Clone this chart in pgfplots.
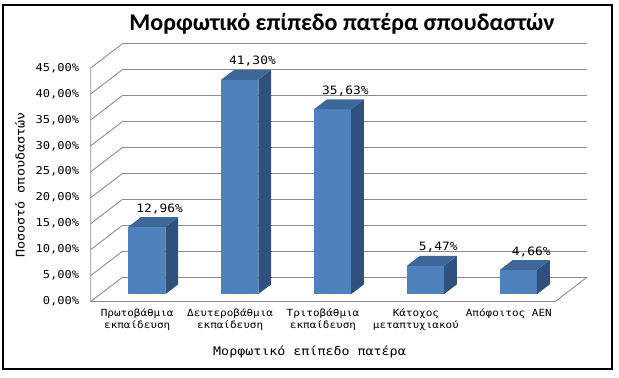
\documentclass[border=0pt]{standalone}
\usepackage{fontspec}
\usepackage{pgfplots}
\pgfplotsset{compat=1.18}
\newfontfamily\monof[FakeStretch=1.12]{DejaVu Sans Mono}
\newfontfamily\titlef{Carlito}
\definecolor{barfront}{HTML}{4F81BD}
\definecolor{barside}{HTML}{30507E}
\definecolor{bartop}{HTML}{3D6699}
\definecolor{gridc}{HTML}{8C8C8C}
% one 3D-looking bar: left x, right x, value
\newcommand\cbar[3]{%
 \addplot3[fill=barfront, draw=none] coordinates {(#1,0.3,0) (#2,0.3,0) (#2,0.3,#3) (#1,0.3,#3)};
 \addplot3[fill=barside, draw=none] coordinates {(#2,0.3,0) (#2,0.7,0) (#2,0.7,#3) (#2,0.3,#3)};
 \addplot3[fill=bartop, draw=none] coordinates {(#1,0.3,#3) (#2,0.3,#3) (#2,0.7,#3) (#1,0.7,#3)};
}
\begin{document}
\begin{tikzpicture}
\begin{axis}[
  x={(92.9bp,0bp)}, y={(32bp,24.5bp)}, z={(0bp,5.19bp)},
  xmin=-0.5, xmax=4.5, ymin=0, ymax=1, zmin=0, zmax=45,
  clip=false,
  axis line style={draw=none},
  tick style={draw=none},
  /pgf/number format/assume math mode=true,
  xtick={0,1,2,3,4},
  xticklabels={{Πρωτοβάθμια\\εκπαίδευση},{Δευτεροβάθμια\\εκπαίδευση},{Τριτοβάθμια\\εκπαίδευση},{Κάτοχος\\μεταπτυχιακού},{Απόφοιτος ΑΕΝ}},
  xticklabel style={align=center, font=\monof\fontsize{9.8bp}{11.5bp}\selectfont, anchor=north, yshift=-4bp},
  ytick=\empty,
  ztick={0,5,...,45},
  zticklabel={\pgfmathprintnumber[fixed,fixed zerofill,precision=2,use comma]{\tick}\%},
  zticklabel style={font=\monof\fontsize{10.8bp}{12bp}\selectfont, anchor=east, xshift=-8bp},
  zmajorgrids=true, xmajorgrids=false, ymajorgrids=false,
  major grid style={draw=gridc, line width=0.9bp},
]
\coordinate (O) at (axis cs:0,0,0);
% floor outline and front-left edge
\addplot3[draw=gridc, line width=0.9bp] coordinates {(-0.5,0,45) (-0.5,0,0) (4.5,0,0) (4.5,1,0)};
% bars
\cbar{-0.2}{0.2}{12.96}
\cbar{0.8}{1.2}{41.30}
\cbar{1.8}{2.2}{35.63}
\cbar{2.8}{3.2}{5.47}
\cbar{3.8}{4.2}{4.66}
% data labels
\addplot3[draw=none, point meta=z,
  nodes near coords={\pgfmathprintnumber[fixed,fixed zerofill,precision=2,use comma]{\pgfplotspointmeta}\%},
  nodes near coords style={anchor=base, yshift=5bp, font=\monof\fontsize{11.5bp}{12bp}\selectfont}]
  coordinates {(0,0.7,12.96) (1,0.7,41.30) (2,0.7,35.63) (3,0.7,5.47) (4,0.7,4.66)};
\end{axis}
\pgfresetboundingbox
\path (O) ++(-137.2bp,-76.5bp) rectangle ++(619bp,378bp);
\draw[line width=1.4bp] (O) ++(-134.2bp,-67.5bp) rectangle ++(609bp,364bp);
\path (O) ++(204.8bp,277.5bp) node[font=\titlef\bfseries\fontsize{24bp}{28bp}\selectfont] {Μορφωτικό επίπεδο πατέρα σπουδαστών};
\path (O) ++(172.3bp,-50.5bp) node[font=\monof\fontsize{11.9bp}{14bp}\selectfont] {Μορφωτικό επίπεδο πατέρα};
\path (O) ++(-117.2bp,116.5bp) node[font=\monof\fontsize{11.9bp}{14bp}\selectfont, rotate=90] {Ποσοστό σπουδαστών};
\end{tikzpicture}
\end{document}
